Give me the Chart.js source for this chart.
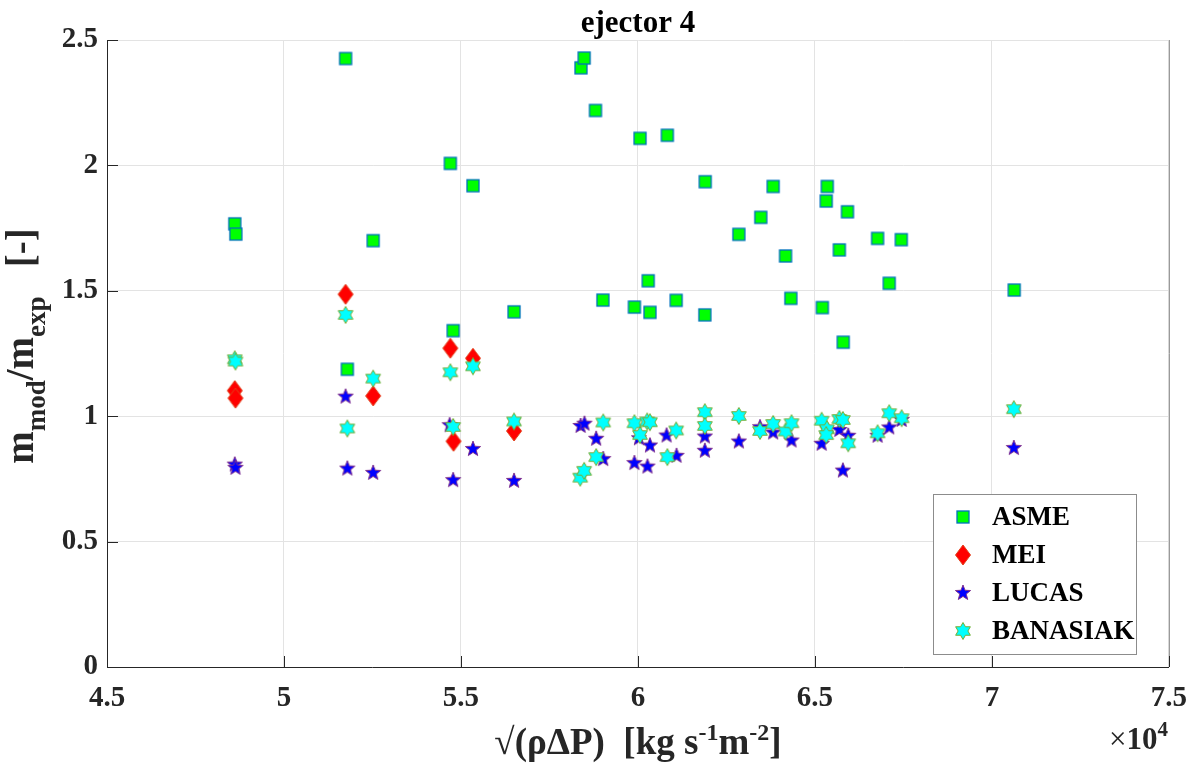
<!DOCTYPE html>
<html lang="en">
  <head>
    <meta charset="UTF-8" />
    <title>ejector 4</title>
    <script src="https://cdn.jsdelivr.net/npm/chart.js"></script>
    <style>
      body {
        margin: 0;
        background: #fff;
      }
    </style>
  </head>
  <body>
    <canvas id="myChart" width="1201" height="765"></canvas>
  </body>
</html>

<script>
  // x values are in units of 10^4 (axis shows "x10^4")
  const asmeX = [4.861, 4.864, 5.174, 5.179, 5.252, 5.47, 5.478, 5.534, 5.65, 5.839, 5.848, 5.88,
    5.901, 5.99, 6.006, 6.029, 6.034, 6.083, 6.108, 6.189, 6.19, 6.285, 6.347, 6.382, 6.417, 6.432,
    6.521, 6.532, 6.535, 6.569, 6.58, 6.592, 6.677, 6.71, 6.744, 7.063];
  const asmeY = [1.767, 1.726, 2.426, 1.187, 1.7, 2.008, 1.341, 1.919, 1.416, 2.389, 2.428, 2.219,
    1.463, 1.435, 2.108, 1.54, 1.414, 2.12, 1.462, 1.404, 1.935, 1.725, 1.793, 1.916, 1.639, 1.47,
    1.433, 1.858, 1.916, 1.663, 1.295, 1.815, 1.709, 1.53, 1.704, 1.503];

  const meiX = [4.861, 4.863, 5.174, 5.252, 5.47, 5.534, 5.479, 5.65];
  const meiY = [1.102, 1.072, 1.486, 1.081, 1.271, 1.231, 0.9, 0.941];

  const lucasX = [4.861, 4.863, 5.174, 5.179, 5.252, 5.468, 5.478, 5.534, 5.65, 5.838, 5.849, 5.882,
    5.902, 5.99, 6.003, 6.034, 6.027, 6.081, 6.109, 6.189, 6.189, 6.285, 6.345, 6.382, 6.434, 6.519,
    6.569, 6.594, 6.579, 6.677, 6.71, 6.745, 7.062];
  const lucasY = [0.807, 0.794, 1.078, 0.791, 0.774, 0.964, 0.745, 0.869, 0.742, 0.961, 0.97, 0.91,
    0.829, 0.813, 0.912, 0.883, 0.799, 0.923, 0.842, 0.919, 0.862, 0.899, 0.956, 0.935, 0.903, 0.89,
    0.945, 0.922, 0.783, 0.922, 0.955, 0.985, 0.873];

  const banX = [4.861, 4.863, 5.174, 5.179, 5.252, 5.47, 5.534, 5.478, 5.65, 5.837, 5.848, 5.882,
    5.902, 5.99, 6.006, 6.026, 6.034, 6.083, 6.108, 6.189, 6.189, 6.285, 6.345, 6.382, 6.417, 6.434,
    6.519, 6.534, 6.532, 6.569, 6.579, 6.594, 6.677, 6.71, 6.745, 7.062];
  const banY = [1.227, 1.218, 1.404, 0.951, 1.15, 1.175, 1.199, 0.957, 0.979, 0.755, 0.782, 0.837,
    0.975, 0.972, 0.925, 0.979, 0.976, 0.837, 0.943, 1.016, 0.961, 1.001, 0.941, 0.969, 0.939, 0.972,
    0.982, 0.948, 0.925, 0.989, 0.985, 0.892, 0.932, 1.012, 0.992, 1.028];

  const seriesNames = ["ASME", "MEI", "LUCAS", "BANASIAK"];
  const xTicks = [4.5, 5, 5.5, 6, 6.5, 7, 7.5];
  const yTicks = [0, 0.5, 1, 1.5, 2, 2.5];

  const serif = '"Liberation Serif", "Times New Roman", serif';

  function toPoints(xs, ys) {
    return xs.map((x, i) => ({ x: x, y: ys[i] }));
  }

  // marker images (MATLAB-like markers)
  function makeMarker(draw) {
    let c = document.createElement("canvas");
    c.width = 24;
    c.height = 24;
    let g = c.getContext("2d");
    g.translate(12, 12);
    draw(g);
    return c;
  }

  function starPath(g, n, R, r) {
    g.beginPath();
    for (let i = 0; i < 2 * n; i++) {
      let a = -Math.PI / 2 + (i * Math.PI) / n;
      let rad = i % 2 === 0 ? R : r;
      g.lineTo(rad * Math.cos(a), rad * Math.sin(a));
    }
    g.closePath();
  }

  let squareMarker = makeMarker((g) => {
    g.fillStyle = "#00ff00";
    g.fillRect(-6, -6, 12, 12);
    g.strokeStyle = "#0072bd";
    g.lineWidth = 1.3;
    g.strokeRect(-6, -6, 12, 12);
  });

  let diamondMarker = makeMarker((g) => {
    g.beginPath();
    g.moveTo(0, -10);
    g.lineTo(7.5, 0);
    g.lineTo(0, 10);
    g.lineTo(-7.5, 0);
    g.closePath();
    g.fillStyle = "#ff0000";
    g.fill();
    g.strokeStyle = "#e0401a";
    g.lineWidth = 1;
    g.stroke();
  });

  let starMarker = makeMarker((g) => {
    starPath(g, 5, 8, 3.4);
    g.fillStyle = "#0000ff";
    g.fill();
    g.strokeStyle = "#7e2f8e";
    g.lineWidth = 1;
    g.stroke();
  });

  let hexMarker = makeMarker((g) => {
    starPath(g, 6, 8.5, 4.9);
    g.fillStyle = "#00ffff";
    g.fill();
    g.strokeStyle = "#77ac30";
    g.lineWidth = 1;
    g.stroke();
  });

  const markers = [squareMarker, diamondMarker, starMarker, hexMarker];

  // draw text made of pieces: [text, fontSize, dy, notBold]
  function drawPieces(ctx, pieces, x, y, align) {
    let total = 0;
    pieces.forEach((p) => {
      ctx.font = (p[3] ? "" : "bold ") + p[1] + "px " + serif;
      total += ctx.measureText(p[0]).width;
    });
    let cx = align === "center" ? x - total / 2 : x;
    ctx.textAlign = "left";
    ctx.textBaseline = "alphabetic";
    pieces.forEach((p) => {
      ctx.font = (p[3] ? "" : "bold ") + p[1] + "px " + serif;
      ctx.fillText(p[0], cx, y + p[2]);
      cx += ctx.measureText(p[0]).width;
    });
  }

  const decorations = {
    id: "decorations",
    afterDraw(chart) {
      let ctx = chart.ctx;
      let area = chart.chartArea;
      let xs = chart.scales.x;
      let ys = chart.scales.y;
      ctx.save();

      // right box edge
      ctx.strokeStyle = "#8c8c8c";
      ctx.lineWidth = 1;
      ctx.beginPath();
      ctx.moveTo(area.right + 0.5, area.top);
      ctx.lineTo(area.right + 0.5, area.bottom);
      ctx.stroke();

      // inward ticks
      ctx.strokeStyle = "#262626";
      ctx.beginPath();
      xTicks.forEach((t) => {
        let px = Math.round(xs.getPixelForValue(t)) + 0.5;
        ctx.moveTo(px, area.bottom);
        ctx.lineTo(px, area.bottom - 11);
      });
      yTicks.forEach((t) => {
        let py = Math.round(ys.getPixelForValue(t)) + 0.5;
        ctx.moveTo(area.left, py);
        ctx.lineTo(area.left + 11, py);
      });
      ctx.stroke();

      ctx.fillStyle = "#000";
      // title
      ctx.font = "bold 31px " + serif;
      ctx.textAlign = "center";
      ctx.textBaseline = "alphabetic";
      ctx.fillText("ejector 4", (area.left + area.right) / 2, 32);

      // x axis label
      ctx.fillStyle = "#262626";
      drawPieces(
        ctx,
        [
          ["\u221A(\u03C1\u0394P)  [kg s", 37, 0],
          ["-1", 24, -14],
          ["m", 37, 0],
          ["-2", 24, -14],
          ["]", 37, 0],
        ],
        (area.left + area.right) / 2,
        754,
        "center"
      );

      // x10^4
      drawPieces(
        ctx,
        [
          ["\u00D7", 31, 0, true],
          ["10", 31, 0],
          ["4", 21, -13],
        ],
        1109,
        749,
        "left"
      );

      // y axis label
      ctx.save();
      ctx.translate(33, 346);
      ctx.rotate(-Math.PI / 2);
      drawPieces(
        ctx,
        [
          ["m", 39, 0],
          ["mod", 27, 12],
          ["/m", 39, 0],
          ["exp", 27, 12],
          ["   [-]", 39, 0],
        ],
        0,
        0,
        "center"
      );
      ctx.restore();

      // legend box
      let lx = 933, ly = 494, lw = 203, lh = 160;
      ctx.fillStyle = "#fff";
      ctx.fillRect(lx, ly, lw, lh);
      ctx.strokeStyle = "#8c8c8c";
      ctx.strokeRect(lx + 0.5, ly + 0.5, lw, lh);
      ctx.fillStyle = "#000";
      ctx.font = "bold 27px " + serif;
      ctx.textAlign = "left";
      ctx.textBaseline = "middle";
      seriesNames.forEach((name, i) => {
        let rowY = 517 + i * 38;
        ctx.drawImage(markers[i], 963 - 12, rowY - 12);
        ctx.fillText(name, 992, rowY + 1);
      });

      ctx.restore();
    },
  };

  let ctx = document.getElementById("myChart");

  let chart = new Chart(ctx, {
    type: "scatter",
    data: {
      datasets: [
        { label: seriesNames[0], data: toPoints(asmeX, asmeY), pointStyle: squareMarker, order: 4 },
        { label: seriesNames[1], data: toPoints(meiX, meiY), pointStyle: diamondMarker, order: 3 },
        { label: seriesNames[2], data: toPoints(lucasX, lucasY), pointStyle: starMarker, order: 2 },
        { label: seriesNames[3], data: toPoints(banX, banY), pointStyle: hexMarker, order: 1 },
      ],
    },
    options: {
      responsive: false,
      animation: false,
      layout: {
        padding: { top: 40, right: 29, left: 0, bottom: 0 },
      },
      plugins: {
        legend: { display: false },
        tooltip: { enabled: false },
      },
      scales: {
        x: {
          type: "linear",
          min: 4.5,
          max: 7.5,
          afterFit: (scale) => {
            scale.height = 98;
          },
          afterBuildTicks: (scale) => {
            scale.ticks = xTicks.map((v) => ({ value: v }));
          },
          ticks: {
            padding: 14,
            color: "#262626",
            font: { family: serif, size: 29, weight: "bold" },
            callback: (v) => String(v),
          },
          grid: { color: "#e3e3e3", drawTicks: false },
          border: { color: "#262626" },
        },
        y: {
          min: 0,
          max: 2.5,
          afterFit: (scale) => {
            scale.width = 107;
          },
          afterBuildTicks: (scale) => {
            scale.ticks = yTicks.map((v) => ({ value: v }));
          },
          ticks: {
            padding: 9,
            color: "#262626",
            font: { family: serif, size: 29, weight: "bold" },
            callback: (v) => String(v),
          },
          grid: { color: "#e3e3e3", drawTicks: false },
          border: { color: "#262626" },
        },
      },
    },
    plugins: [decorations],
  });
</script>
